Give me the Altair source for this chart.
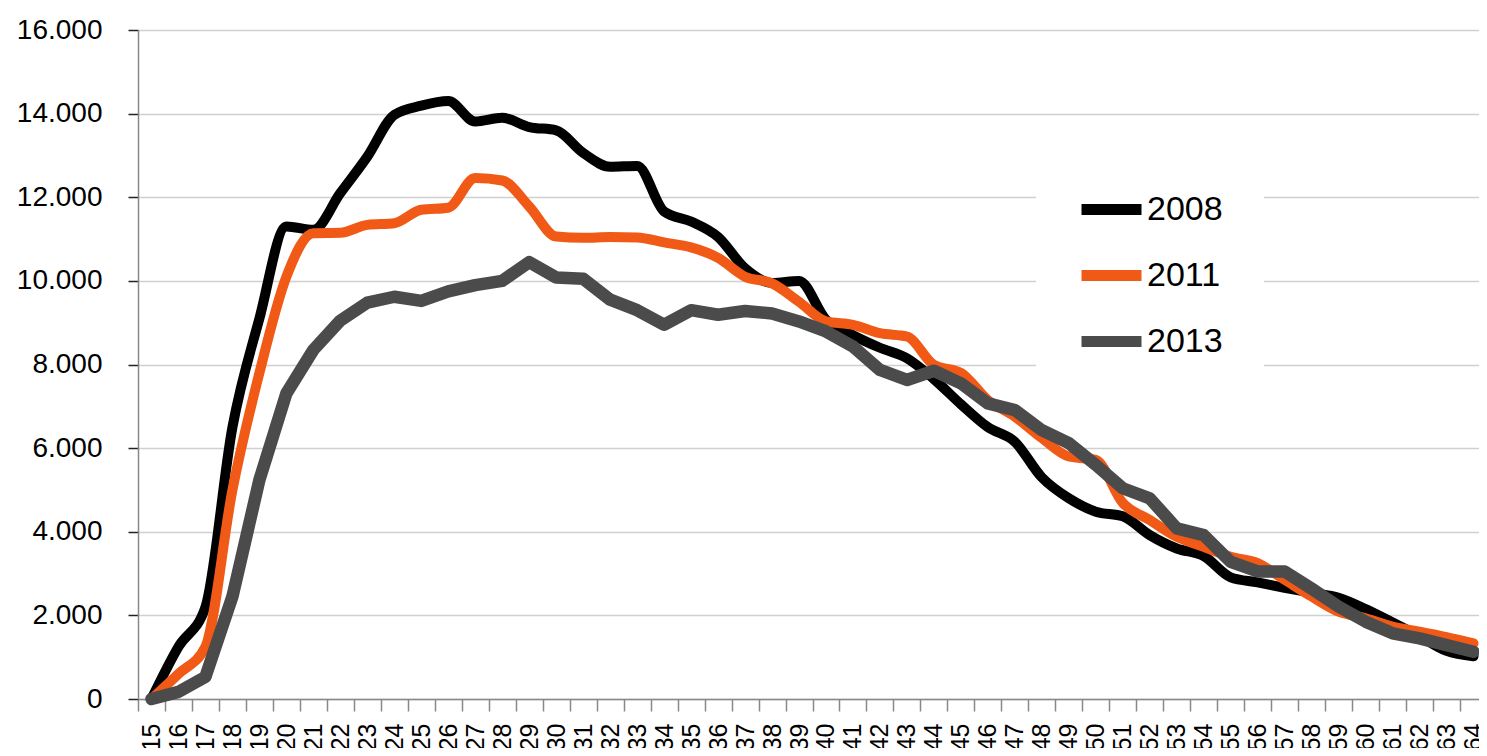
import altair as alt
import pandas as pd

ages = list(range(15, 65))
years = ["2008", "2011", "2013"]
v2008 = [0, 1250, 2200, 6500, 9100, 11300, 11220, 12100, 12970, 13970,
         14190, 14300, 13810, 13900, 13680, 13600, 13060, 12730, 12750, 11660,
         11420, 11050, 10300, 9950, 10000, 9070, 8700, 8400, 8150, 7650,
         7050, 6500, 6150, 5300, 4800, 4480, 4370, 3920, 3600, 3420,
         2910, 2790, 2660, 2540, 2420, 2150, 1830, 1500, 1150, 1020]
v2011 = [0, 600, 1250, 5000, 7800, 10100, 11140, 11150, 11340, 11380,
         11700, 11750, 12460, 12400, 11780, 11060, 11030, 11050, 11040, 10920,
         10800, 10550, 10100, 9940, 9500, 9030, 8950, 8750, 8670, 7990,
         7800, 7150, 6750, 6240, 5800, 5720, 4690, 4280, 3880, 3640,
         3400, 3250, 2850, 2450, 2090, 1930, 1730, 1610, 1480, 1330]
v2013 = [0, 170, 530, 2450, 5240, 7310, 8350, 9050, 9480, 9620,
         9520, 9750, 9900, 10000, 10450, 10080, 10050, 9550, 9300, 8950,
         9300, 9190, 9280, 9220, 9030, 8790, 8430, 7870, 7630, 7850,
         7550, 7070, 6910, 6430, 6120, 5600, 5040, 4800, 4080, 3920,
         3280, 3050, 3050, 2640, 2210, 1850, 1570, 1450, 1290, 1130]
y_ticks = [0, 2000, 4000, 6000, 8000, 10000, 12000, 14000, 16000]
colors = ["#000000", "#F05A16", "#4B4B4B"]

rows = []
for yr, vals in zip(years, [v2008, v2011, v2013]):
    for a, v in zip(ages, vals):
        rows.append({"age": str(a), "year": yr, "value": v})
df = pd.DataFrame(rows)

FONT = "Liberation Sans, Arial, sans-serif"

x_enc = alt.X(
    "age:O",
    sort=[str(a) for a in ages],
    bandPosition=0.5,
    scale=alt.Scale(type="band", paddingInner=0, paddingOuter=0),
    axis=alt.Axis(
        title=None, labelAngle=270, labelFont=FONT, labelFontSize=25,
        labelColor="black", labelPadding=12, labelOverlap=False,
        tickBand="extent", tickSize=12, tickColor="#888888", tickWidth=1.5,
        domainColor="#888888", domainWidth=1.5, grid=False,
    ),
)
y_enc = alt.Y(
    "value:Q",
    scale=alt.Scale(domain=[0, 16000], nice=False),
    axis=alt.Axis(
        title=None, values=y_ticks,
        labelExpr="replace(format(datum.value, ','), ',', '.')",
        labelFont=FONT, labelFontSize=28, labelColor="black",
        labelPadding=26, tickSize=10, tickColor="#222222", tickWidth=1.5,
        domainColor="#888888", domainWidth=1.5,
        grid=True, gridColor="#d0d0d0", gridWidth=1.5,
    ),
)
color_enc = alt.Color(
    "year:N",
    scale=alt.Scale(domain=years, range=colors),
    legend=alt.Legend(
        orient="none", legendX=898, legendY=104, title=None,
        symbolType="stroke", symbolSize=3600, symbolStrokeWidth=11,
        labelFont=FONT, labelFontSize=34, labelColor="black",
        labelOffset=0, rowPadding=8, padding=40, fillColor="white",
        strokeColor="white",
    ),
)

def layer(yr, interp, sw):
    return alt.Chart(df).transform_filter(
        alt.datum.year == yr
    ).mark_line(
        interpolate=interp, strokeWidth=sw, strokeCap="round", strokeJoin="round"
    ).encode(x=x_enc, y=y_enc, color=color_enc)

chart = alt.layer(
    layer("2008", "monotone", 10),
    layer("2011", "monotone", 10),
    layer("2013", "linear", 12.5),
).properties(
    width=1349, height=669,
    autosize=alt.AutoSizeParams(type="none"),
    padding={"left": 130, "top": 22, "right": -8, "bottom": 49},
).configure_view(stroke=None).configure(background="white")

chart.save("out.html", embed_options={"renderer": "svg", "actions": False})
